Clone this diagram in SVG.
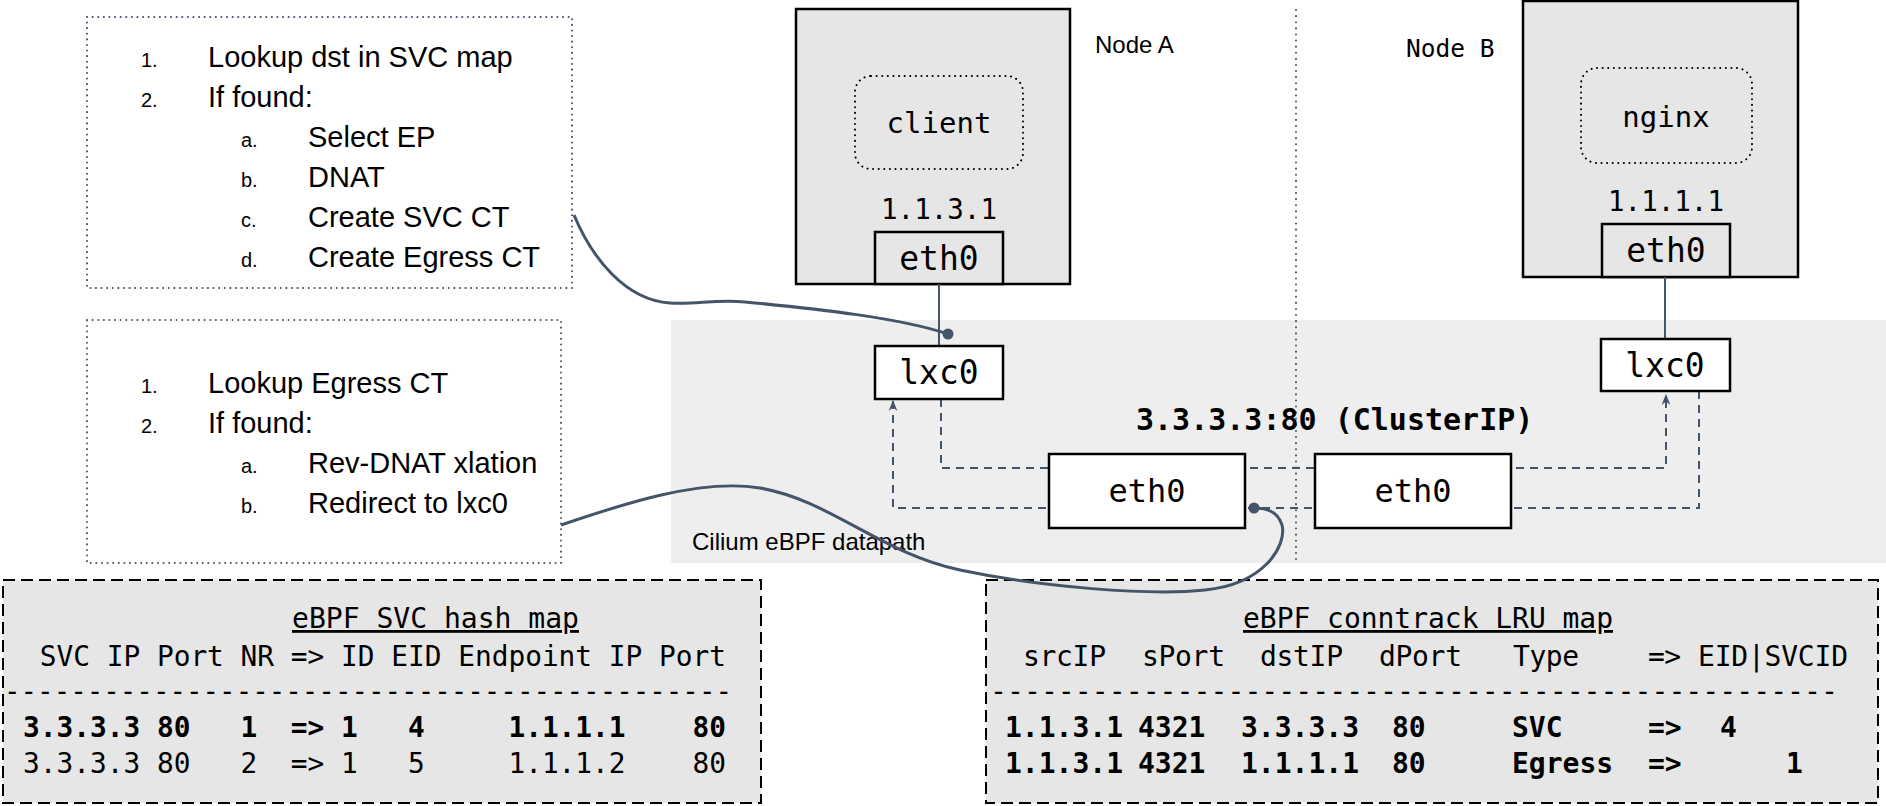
<svg xmlns="http://www.w3.org/2000/svg" width="1886" height="806" viewBox="0 0 1886 806">
<style>
.sans{font-family:"Liberation Sans",Arial,sans-serif;fill:#000}
.mono{font-family:"DejaVu Sans Mono","Liberation Mono",monospace;fill:#000}
.num{font-size:20px}
.item{font-size:29px}
.tbl{font-size:28px;white-space:pre}
.b{font-weight:bold}
.mid{text-anchor:middle}
.conn{fill:none;stroke:#44546a;stroke-width:3}
.dash{fill:none;stroke:#44546a;stroke-width:2;stroke-dasharray:8 6}
.solid{fill:none;stroke:#44546a;stroke-width:2}
.dot{fill:#44546a}
.node{fill:#e7e6e6;stroke:#000;stroke-width:2.5}
.wbox{fill:#fff;stroke:#000;stroke-width:2.5}
.pod{fill:none;stroke:#000;stroke-width:2;stroke-dasharray:0.1 5.5;stroke-linecap:round}
.note{fill:#fff;stroke-width:2;stroke-dasharray:0.1 5.5;stroke-linecap:round}
.table{fill:#e7e6e6;stroke:#000;stroke-width:2;stroke-dasharray:12 6}
</style>
<defs>
<marker id="arr" viewBox="0 0 10 10" refX="9" refY="5" markerWidth="11" markerHeight="11" markerUnits="userSpaceOnUse" orient="auto"><path d="M0,1 L10,5 L0,9 L3,5 z" fill="#44546a"/></marker>
</defs>

<rect id="datapath-band" x="671" y="320" width="1215" height="243" fill="#eeeeee"/>
<line id="divider" x1="1296" y1="10" x2="1296" y2="563" stroke="#44546a" stroke-width="2" stroke-dasharray="0.1 6" stroke-linecap="round"/>
<text class="sans" x="692" y="550" font-size="24">Cilium eBPF datapath</text>
<text class="sans" x="1095" y="53" font-size="24">Node A</text>
<text class="mono" x="1406" y="57" font-size="24.5">Node B</text>

<g id="note-egress">
<rect class="note" x="87" y="17" width="485" height="271" stroke="#44546a"/>
<text class="sans num" x="141" y="67">1.</text><text class="sans item" x="208" y="67">Lookup dst in SVC map</text>
<text class="sans num" x="141" y="107">2.</text><text class="sans item" x="208" y="107">If found:</text>
<text class="sans num" x="241" y="147">a.</text><text class="sans item" x="308" y="147">Select EP</text>
<text class="sans num" x="241" y="187">b.</text><text class="sans item" x="308" y="187">DNAT</text>
<text class="sans num" x="241" y="227">c.</text><text class="sans item" x="308" y="227">Create SVC CT</text>
<text class="sans num" x="241" y="267">d.</text><text class="sans item" x="308" y="267">Create Egress CT</text>
</g>

<g id="note-ingress">
<rect class="note" x="87" y="320" width="474" height="243" stroke="#595959"/>
<text class="sans num" x="141" y="393">1.</text><text class="sans item" x="208" y="393">Lookup Egress CT</text>
<text class="sans num" x="141" y="433">2.</text><text class="sans item" x="208" y="433">If found:</text>
<text class="sans num" x="241" y="473">a.</text><text class="sans item" x="308" y="473">Rev-DNAT xlation</text>
<text class="sans num" x="241" y="513">b.</text><text class="sans item" x="308" y="513">Redirect to lxc0</text>
</g>

<g id="svc-map">
<rect class="table" x="3" y="580" width="758" height="223"/>
<text class="mono tbl" x="292" y="628" textLength="287" lengthAdjust="spacingAndGlyphs" text-decoration="underline">eBPF SVC hash map</text>
<text class="mono tbl" xml:space="preserve" x="23" y="666" textLength="703" lengthAdjust="spacingAndGlyphs"> SVC IP Port NR =&gt; ID EID Endpoint IP Port</text>
<text class="mono tbl" x="4" y="701" textLength="728" lengthAdjust="spacingAndGlyphs">--------------------------------------------</text>
<text class="mono tbl b" xml:space="preserve" x="23" y="737" textLength="703" lengthAdjust="spacingAndGlyphs">3.3.3.3 80   1  =&gt; 1   4     1.1.1.1    80</text>
<text class="mono tbl" xml:space="preserve" x="23" y="773" textLength="703" lengthAdjust="spacingAndGlyphs">3.3.3.3 80   2  =&gt; 1   5     1.1.1.2    80</text>
</g>

<g id="ct-map">
<rect class="table" x="986" y="580" width="892" height="223"/>
<text class="mono tbl" x="1243" y="628" textLength="370" lengthAdjust="spacingAndGlyphs" text-decoration="underline">eBPF conntrack LRU map</text>
<text class="mono tbl" y="666" lengthAdjust="spacingAndGlyphs"><tspan x="1023" textLength="83">srcIP</tspan><tspan x="1142" textLength="83">sPort</tspan><tspan x="1260" textLength="83">dstIP</tspan><tspan x="1379" textLength="83">dPort</tspan><tspan x="1513" textLength="66">Type</tspan><tspan x="1648" textLength="33">=&gt;</tspan><tspan x="1698" textLength="150">EID|SVCID</tspan></text>
<text class="mono tbl" x="990" y="701" textLength="848" lengthAdjust="spacingAndGlyphs">--------------------------------------------------</text>
<text class="mono tbl b" y="737"><tspan x="1005">1.1.3.1</tspan><tspan x="1138">4321</tspan><tspan x="1241">3.3.3.3</tspan><tspan x="1392">80</tspan><tspan x="1512">SVC</tspan><tspan x="1648">=&gt;</tspan><tspan x="1720">4</tspan></text>
<text class="mono tbl b" y="773"><tspan x="1005">1.1.3.1</tspan><tspan x="1138">4321</tspan><tspan x="1241">1.1.1.1</tspan><tspan x="1392">80</tspan><tspan x="1512">Egress</tspan><tspan x="1648">=&gt;</tspan><tspan x="1786">1</tspan></text>
</g>

<g id="node-a">
<rect class="node" x="796" y="9" width="274" height="275"/>
<rect class="pod" x="855" y="76" width="168" height="93" rx="16"/>
<text class="mono mid" x="939" y="133" font-size="29">client</text>
<text class="mono mid" x="939" y="219" font-size="27.5">1.1.3.1</text>
</g>
<g id="node-a-eth0">
<rect class="node" x="875" y="232" width="128" height="52"/>
<text class="mono mid" x="939" y="270" font-size="33">eth0</text>
</g>

<g id="node-b">
<rect class="node" x="1523" y="1" width="275" height="276"/>
<rect class="pod" x="1581" y="68" width="171" height="95" rx="16"/>
<text class="mono mid" x="1666" y="127" font-size="29">nginx</text>
<text class="mono mid" x="1666" y="211" font-size="27.5">1.1.1.1</text>
</g>
<g id="node-b-eth0">
<rect class="node" x="1602" y="224" width="128" height="53"/>
<text class="mono mid" x="1666" y="262" font-size="33">eth0</text>
</g>

<g id="connectors">
<line class="solid" x1="939" y1="284" x2="939" y2="346"/>
<line class="solid" x1="1665" y1="277" x2="1665" y2="339"/>
<path class="dash" d="M941 399 V468 H1666 V395" marker-end="url(#arr)"/>
<path class="dash" d="M1699 391 V508 H893 V401" marker-end="url(#arr)"/>
<path class="conn" d="M574 215 C592 258 625 300 670 303 C695 305 715 299 745 302 C820 309 900 318 948 334"/>
<circle class="dot" cx="948" cy="334" r="5.5"/>
<path class="conn" d="M561 525 C620 505 700 478 760 488 C830 500 880 553 960 570 C1040 587 1150 596 1205 590 C1265 584 1287 545 1282 525 C1278 512 1268 508 1254 508"/>
<circle class="dot" cx="1254" cy="508" r="5.5"/>
</g>

<g id="lxc0-a">
<rect class="wbox" x="875" y="346" width="128" height="53"/>
<text class="mono mid" x="939" y="384" font-size="33">lxc0</text>
</g>
<g id="lxc0-b">
<rect class="wbox" x="1601" y="339" width="129" height="52"/>
<text class="mono mid" x="1665" y="377" font-size="33">lxc0</text>
</g>
<g id="eth0-a">
<rect class="wbox" x="1049" y="454" width="196" height="74"/>
<text class="mono mid" x="1147" y="502" font-size="32">eth0</text>
</g>
<g id="eth0-b">
<rect class="wbox" x="1315" y="454" width="196" height="74"/>
<text class="mono mid" x="1413" y="502" font-size="32">eth0</text>
</g>
<text id="cluster-ip" class="mono b" x="1136" y="430" font-size="30">3.3.3.3:80 (ClusterIP)</text>
</svg>
